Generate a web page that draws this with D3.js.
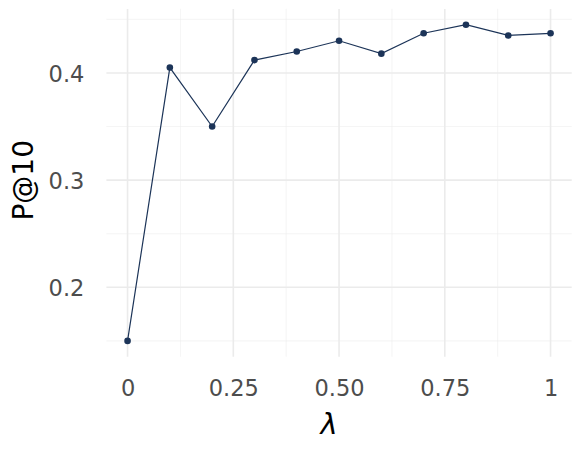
<!DOCTYPE html>
<html><head><meta charset="utf-8">
<script src="https://cdn.jsdelivr.net/npm/d3@7"></script>
<style>body{margin:0;background:#fff}svg{display:block}</style>
</head><body>
<svg id="c" width="581" height="449"></svg>
<script>
const lambdas = [0, 0.1, 0.2, 0.3, 0.4, 0.5, 0.6, 0.7, 0.8, 0.9, 1.0];
const p10 = [0.150, 0.405, 0.350, 0.412, 0.420, 0.430, 0.418, 0.437, 0.445, 0.435, 0.437];
const xTicks = [0, 0.25, 0.5, 0.75, 1];
const xTickLabels = ["0", "0.25", "0.50", "0.75", "1"];
const xMinor = [0.125, 0.375, 0.625, 0.875];
const yTicks = [0.2, 0.3, 0.4];
const yMinor = [0.15, 0.25, 0.35, 0.45];

const svg = d3.select("#c");
const L = 106.4, R = 571.7, T = 8.9, B = 356.7;
const x = d3.scaleLinear().domain([-0.05, 1.05]).range([L, R]);
const yExt = [0.15 - 0.01475, 0.445 + 0.01475];
const y = d3.scaleLinear().domain(yExt).range([B, T]);
const col = "#1c3458";
const font = "DejaVu Sans, sans-serif";

// minor grid
svg.append("g").selectAll("line").data(xMinor).join("line")
  .attr("x1", d => x(d)).attr("x2", d => x(d)).attr("y1", T).attr("y2", B)
  .attr("stroke", "#ebebeb").attr("stroke-width", 0.8).attr("opacity", 0.6);
svg.append("g").selectAll("line").data(yMinor).join("line")
  .attr("y1", d => y(d)).attr("y2", d => y(d)).attr("x1", L).attr("x2", R)
  .attr("stroke", "#ebebeb").attr("stroke-width", 0.8).attr("opacity", 0.6);
// major grid
svg.append("g").selectAll("line").data(xTicks).join("line")
  .attr("x1", d => x(d)).attr("x2", d => x(d)).attr("y1", T).attr("y2", B)
  .attr("stroke", "#ebebeb").attr("stroke-width", 1.6);
svg.append("g").selectAll("line").data(yTicks).join("line")
  .attr("y1", d => y(d)).attr("y2", d => y(d)).attr("x1", L).attr("x2", R)
  .attr("stroke", "#ebebeb").attr("stroke-width", 1.6);

// axes (tick labels only)
const xAxis = d3.axisBottom(x).tickValues(xTicks).tickSize(0).tickPadding(0)
  .tickFormat((d, i) => xTickLabels[i]);
const gx = svg.append("g").attr("transform", `translate(0,${B})`).call(xAxis);
gx.select(".domain").remove();
gx.selectAll("text").attr("y", 39.5).attr("dy", null)
  .attr("font-family", font).attr("font-size", 22.5).attr("fill", "#4d4d4d");

const yAxis = d3.axisLeft(y).tickValues(yTicks).tickSize(0).tickPadding(0)
  .tickFormat(d3.format(".1f"));
const gy = svg.append("g").attr("transform", `translate(${L - 22},0)`).call(yAxis);
gy.select(".domain").remove();
gy.selectAll("text").attr("x", 0).attr("dy", "0.36em")
  .attr("font-family", font).attr("font-size", 22.5).attr("fill", "#4d4d4d");

// line & points
const pts = lambdas.map((l, i) => [l, p10[i]]);
svg.append("path").datum(pts)
  .attr("d", d3.line().x(d => x(d[0])).y(d => y(d[1])))
  .attr("fill", "none").attr("stroke", col).attr("stroke-width", 1.2);
svg.append("g").selectAll("circle").data(pts).join("circle")
  .attr("cx", d => x(d[0])).attr("cy", d => y(d[1])).attr("r", 3.3)
  .attr("fill", col);

// titles
svg.append("text").attr("x", 329).attr("y", 434).attr("text-anchor", "middle")
  .attr("font-family", font).attr("font-style", "italic").attr("font-size", 29)
  .attr("fill", "#000").text("λ");
svg.append("text").attr("transform", `translate(32.5,${(T + B) / 2 - 2.5}) rotate(-90)`)
  .attr("text-anchor", "middle")
  .attr("font-family", font).attr("font-size", 28).attr("fill", "#000").text("P@10");
</script>
</body></html>
